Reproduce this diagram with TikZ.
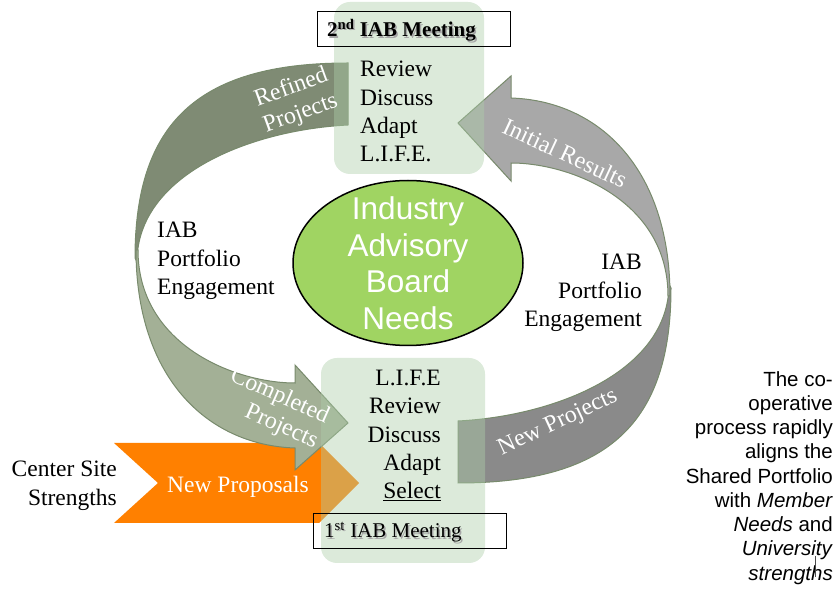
\documentclass[tikz,border=0pt]{standalone}
\usepackage{fontspec}
\setmainfont{Liberation Serif}
\newfontfamily\arialfont{Liberation Sans}
\usetikzlibrary{positioning}

\definecolor{refinedgreen}{RGB}{127,139,116}
\definecolor{completedgreen}{RGB}{163,176,150}
\definecolor{initialgray}{RGB}{168,168,168}
\definecolor{newgray}{RGB}{138,138,138}
\definecolor{arrowedge}{RGB}{120,138,108}
\definecolor{proposalorange}{RGB}{255,128,0}
\definecolor{boxgreen}{RGB}{173,206,169}
\definecolor{needsgreen}{RGB}{160,212,98}

\tikzset{
	bigarrow/.style={draw=arrowedge, line width=1pt},
	meetbox/.style={draw=black, line width=0.8pt},
	stepsbox/.style={fill=boxgreen, fill opacity=0.43, rounded corners=16pt},
	steptext/.style={font=\fontsize{23.5}{28.3}\selectfont, inner sep=0pt},
	meettext/.style={font=\bfseries\fontsize{21}{25}\selectfont, inner sep=0pt, anchor=base west},
	arrowlabel/.style={text=white, font=\fontsize{24}{27}\selectfont, inner sep=0pt, align=center},
}

\begin{document}
\begin{tikzpicture}[x=1pt,y=-1pt]
			\useasboundingbox (0,0) rectangle (839,593);
			\fill[proposalorange] (114,443) -- (319,443) -- (359,483) -- (319,523) -- (114,523) -- (158,483) -- cycle;
			\draw[bigarrow,fill=refinedgreen] (348,63) .. controls (198,63) and (135,123) .. (135,258) -- (137,262) .. controls (137,175) and (250,130) .. (348,125) -- cycle;
			\draw[bigarrow,fill=completedgreen] (136,250) .. controls (136,375) and (205,445) .. (295,448) -- (295,470) -- (348,423) -- (295,365) -- (295,383) .. controls (235,383) and (138,345) .. (138,250) -- cycle;
			\begin{scope}[rotate around={180:(403,273)}]
				\draw[bigarrow,fill=newgray] (348,63) .. controls (198,63) and (135,123) .. (135,258) -- (137,262) .. controls (137,175) and (250,130) .. (348,125) -- cycle;
				\draw[bigarrow,fill=initialgray] (136,250) .. controls (136,375) and (205,445) .. (295,448) -- (295,470) -- (348,423) -- (295,365) -- (295,383) .. controls (235,383) and (138,345) .. (138,250) -- cycle;
			\end{scope}
			\fill[stepsbox] (334,2) rectangle (484,174);
			\fill[stepsbox] (321,358) rectangle (485,563);
			\coordinate (needscenter) at (408,263);
			\draw[line width=1.5pt, fill=needsgreen] (needscenter) ellipse [x radius=115, y radius=82.5];
			\node[text=white, align=center, inner sep=0pt, font=\arialfont\fontsize{31.5}{36.5}\selectfont] (needs) at (needscenter) {Industry\\Advisory\\Board\\Needs};
			\node[steptext, anchor=north west, align=left] (secondsteps) at (360,61) {Review\\Discuss\\Adapt\\L.I.F.E.};
			\node[steptext, anchor=north east, align=right] (firststeps) at (441,370) {L.I.F.E\\Review\\Discuss\\Adapt\\\underline{Select}};
			\node[steptext, anchor=north west, align=left] (leftengage) at (157,222) {IAB\\Portfolio\\Engagement};
			\node[steptext, anchor=north east, align=right] (rightengage) at (642,254) {IAB\\Portfolio\\Engagement};
			\node[steptext, anchor=north east, align=right] (sitestrengths) at (117,461) {Center Site\\Strengths};
			\node[steptext, anchor=base west, text=white] (proposals) at (167,493) {New Proposals};
			\draw[meetbox] (317,11) rectangle (510,46);
			\draw[meetbox] (313,513) rectangle (506,548);
			\node[meettext, text=black!35] (meettwoshadow) at (328.5,38.5) {2\textsuperscript{nd} IAB Meeting};
			\node[meettext] (meettwo) at (327,37) {2\textsuperscript{nd} IAB Meeting};
			\node[meettext, font=\fontsize{21}{25}\selectfont, text=black!35] (meetoneshadow) at (325.5,539.5) {1\textsuperscript{st} IAB Meeting};
			\node[meettext, font=\fontsize{21}{25}\selectfont] (meetone) at (324,538) {1\textsuperscript{st} IAB Meeting};
			\node[arrowlabel, rotate=20] (refinedlabel) at (296,101) {Refined\\Projects};
			\node[arrowlabel, align=right, rotate=-24] (completedlabel) at (274,409) {Completed\\Projects};
			\node[arrowlabel, rotate=-25] (initiallabel) at (565,153) {Initial Results};
			\node[arrowlabel, rotate=25] (newlabel) at (558,423) {New Projects};
			\node[anchor=north east, align=right, inner sep=0pt, font=\arialfont\fontsize{20.5}{24.25}\selectfont] (summary) at (833,371) {The co-\\operative\\process rapidly\\aligns the\\Shared Portfolio\\with \textit{Member}\\\textit{Needs} and\\\textit{University}\\\textit{strengths}};
			\draw[line width=0.8pt, black!70] (815,556) -- (815,577);
\end{tikzpicture}
\end{document}
